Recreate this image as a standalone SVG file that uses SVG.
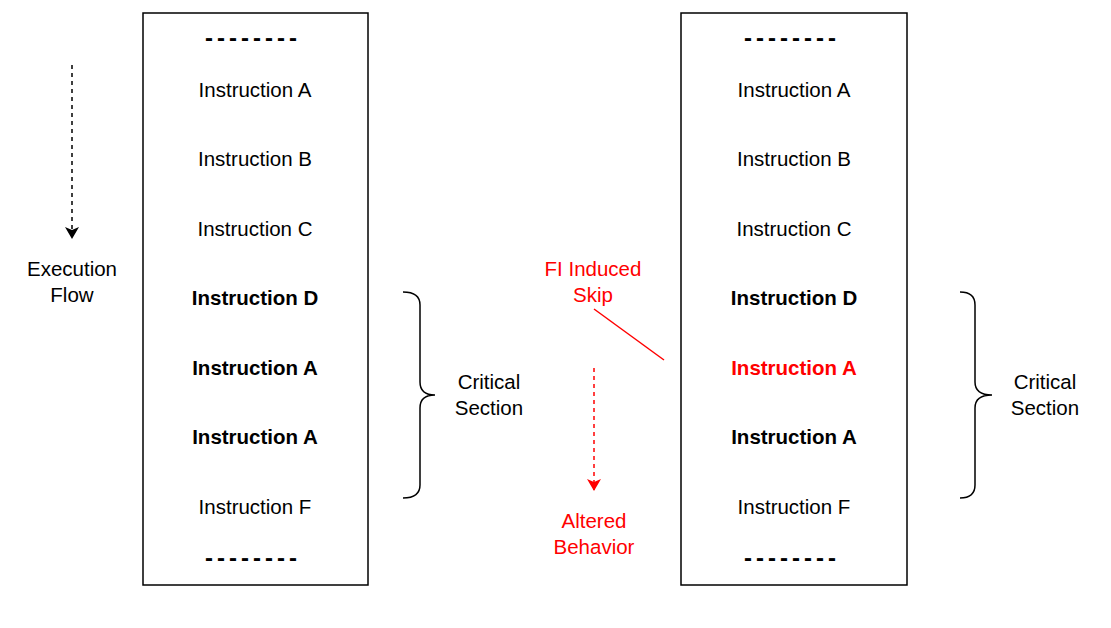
<svg xmlns="http://www.w3.org/2000/svg" width="1111" height="628" viewBox="0 0 1111 628">
<style>
text{font-family:"Liberation Sans",Arial,sans-serif;font-size:20.5px;text-anchor:middle;fill:#000}
.b{font-weight:bold}
.red{fill:#FF0000}
.dash{font-weight:bold;font-size:24px;letter-spacing:4px}
.box{fill:#fff;stroke:#000;stroke-width:1.5}
.brace{fill:none;stroke:#000;stroke-width:1.5}
</style>
<defs>
<marker id="ah" viewBox="0 0 12 14" refX="11" refY="7" markerWidth="12" markerHeight="14" markerUnits="userSpaceOnUse" orient="auto">
<path d="M0,0 L12,7 L0,14 L3,7 Z" fill="#000"/>
</marker>
<marker id="ahr" viewBox="0 0 12 14" refX="11" refY="7" markerWidth="12" markerHeight="14" markerUnits="userSpaceOnUse" orient="auto">
<path d="M0,0 L12,7 L0,14 L3,7 Z" fill="#FF0000"/>
</marker>
</defs>
<g id="left-program">
<rect class="box" x="143" y="13" width="225" height="572"/>
<text class="dash" x="253" y="46">--------</text>
<text x="255" y="97">Instruction A</text>
<text x="255" y="166">Instruction B</text>
<text x="255" y="236">Instruction C</text>
<text class="b" x="255" y="305">Instruction D</text>
<text class="b" x="255" y="375">Instruction A</text>
<text class="b" x="255" y="444">Instruction A</text>
<text x="255" y="514">Instruction F</text>
<text class="dash" x="253" y="566">--------</text>
</g>
<g id="right-program">
<rect class="box" x="681" y="13" width="226" height="572"/>
<text class="dash" x="792" y="46">--------</text>
<text x="794" y="97">Instruction A</text>
<text x="794" y="166">Instruction B</text>
<text x="794" y="236">Instruction C</text>
<text class="b" x="794" y="305">Instruction D</text>
<text class="b red" x="794" y="375">Instruction A</text>
<text class="b" x="794" y="444">Instruction A</text>
<text x="794" y="514">Instruction F</text>
<text class="dash" x="792" y="566">--------</text>
</g>
<g id="execution-flow-label">
<text x="72" y="276">Execution</text>
<text x="72" y="302">Flow</text>
</g>
<g id="left-critical-section">
<path class="brace" d="M403,292 Q420,292 420,305 L420,382 Q420,395 435,395 Q420,395 420,408 L420,485 Q420,498 403,498"/>
<text x="489" y="389">Critical</text>
<text x="489" y="415">Section</text>
</g>
<g id="right-critical-section">
<path class="brace" d="M960,292 Q975,292 975,305 L975,382 Q975,395 992,395 Q975,395 975,408 L975,485 Q975,498 960,498"/>
<text x="1045" y="389">Critical</text>
<text x="1045" y="415">Section</text>
</g>
<g id="fi-skip-label">
<text class="red" x="593" y="276">FI Induced</text>
<text class="red" x="593" y="302">Skip</text>
</g>
<g id="altered-behavior-label">
<text class="red" x="594" y="528">Altered</text>
<text class="red" x="594" y="554">Behavior</text>
</g>
<g id="connectors">
<line x1="72" y1="65" x2="72" y2="238" stroke="#000" stroke-width="1.5" stroke-dasharray="4,4" marker-end="url(#ah)"/>
<line x1="594" y1="309" x2="664" y2="360" stroke="#FF0000" stroke-width="1.5"/>
<line x1="594" y1="368" x2="594" y2="490" stroke="#FF0000" stroke-width="1.5" stroke-dasharray="4,4" marker-end="url(#ahr)"/>
</g>
</svg>
